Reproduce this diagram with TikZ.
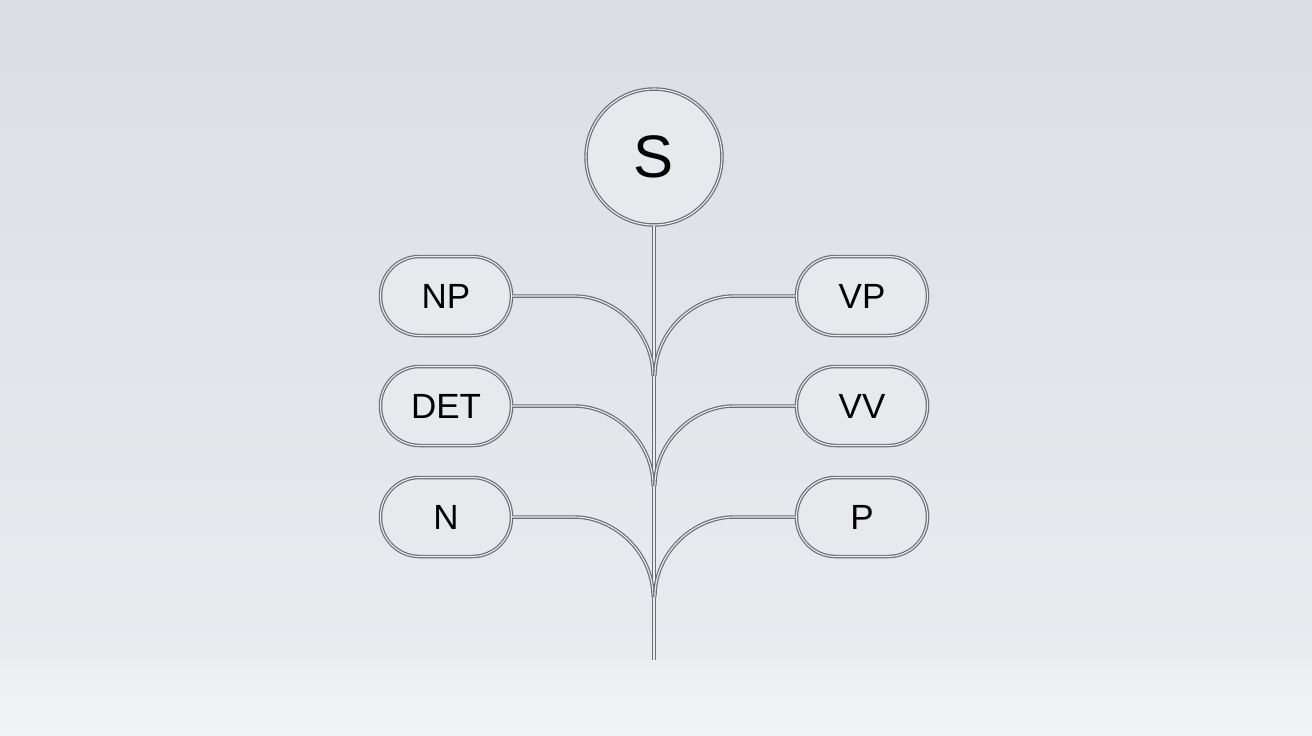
\documentclass[tikz,border=0pt]{standalone}
\usepackage{fontspec}
\setmainfont{Liberation Sans}
\definecolor{bgtop}{RGB}{220,222,228}
\definecolor{bgmid}{RGB}{233,235,239}
\definecolor{floor}{RGB}{237,238,241}
\definecolor{floorbot}{RGB}{242,243,245}
\definecolor{metal}{RGB}{108,110,116}
\definecolor{shine}{RGB}{236,237,240}
\definecolor{pillfill}{RGB}{231,233,237}
\begin{document}
\begin{tikzpicture}[x=1pt,y=-1pt,
  wire/.style={draw=metal,line width=1.2pt,double=shine,double distance=1.1pt},
  pill/.style={wire,fill=pillfill,rounded corners=39pt,minimum width=131pt,minimum height=79pt,inner sep=0pt,font=\fontsize{35}{35}\selectfont},
  root/.style={wire,fill=pillfill,circle,minimum size=136pt,inner sep=0pt,font=\fontsize{60}{60}\selectfont}]
\shade[top color=bgtop,bottom color=bgmid] (0,0) rectangle (1312,660);
\shade[top color=floor,bottom color=floorbot] (0,660) rectangle (1312,736);
\useasboundingbox (0,0) rectangle (1312,736);
\coordinate (base) at (654,660);
\node[root] (S) at (654,157) {S};
\draw[wire] (S.south) -- (base);
\node[pill] (NP) at (446,296) {NP};
\node[pill] (DET) at (446,406) {DET};
\node[pill] (N) at (446,517) {N};
\node[pill] (VP) at (862,296) {VP};
\node[pill] (VV) at (862,406) {VV};
\node[pill] (P) at (862,517) {P};
\foreach \n in {NP,DET,N}{
  \draw[wire] (\n.east) -- ++(62,0) .. controls ++(40,0) and ++(0,-45) .. ++(79,80);
}
\foreach \n in {VP,VV,P}{
  \draw[wire] (\n.west) -- ++(-62,0) .. controls ++(-40,0) and ++(0,-45) .. ++(-79,80);
}
\end{tikzpicture}
\end{document}
